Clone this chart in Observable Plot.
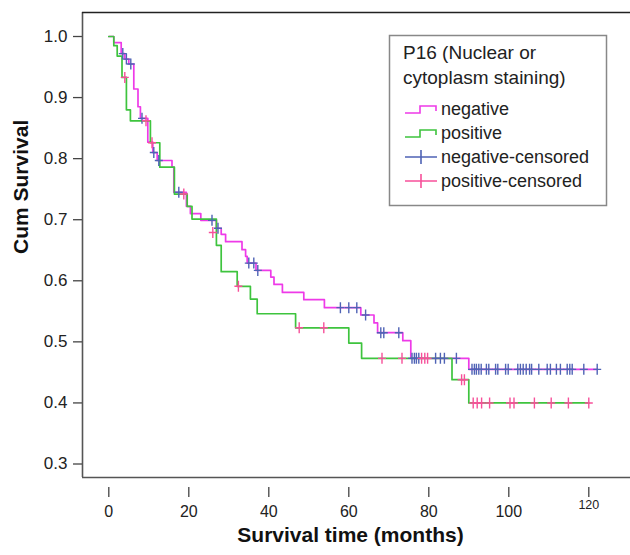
<!DOCTYPE html>
<html><head><meta charset="utf-8">
<script src="https://cdn.jsdelivr.net/npm/d3@7"></script>
<script src="https://cdn.jsdelivr.net/npm/@observablehq/plot@0.6"></script>
<style>body{margin:0;background:#fff;} #chart{width:630px;height:555px;}</style>
</head><body><div id="chart"></div>
<script>
// ---- data ----
const negSteps = [[0,1.0],[1.25,0.99],[3.1,0.972],[4.0,0.963],[5.0,0.955],[6.25,0.914],[7.3,0.885],[7.9,0.866],[9.75,0.827],[11.0,0.81],[12.1,0.797],[15.8,0.786],[16.25,0.745],[19.4,0.722],[20.4,0.71],[23.0,0.699],[26.9,0.686],[28.1,0.676],[29.2,0.664],[33.3,0.651],[34.2,0.64],[34.6,0.629],[36.8,0.617],[40.5,0.606],[41.3,0.594],[43.4,0.581],[48.75,0.569],[53.9,0.556],[63.0,0.544],[66.3,0.531],[67.2,0.515],[73.5,0.502],[75.5,0.473],[90.0,0.455]];
const negEnd = 122.1;
const posSteps = [[0,1.0],[1.25,0.985],[2.1,0.968],[3.3,0.933],[4.4,0.88],[5.4,0.862],[10.4,0.826],[12.75,0.786],[16.4,0.742],[19.6,0.722],[20.8,0.701],[26.9,0.658],[28.1,0.615],[32.1,0.591],[35.4,0.57],[37.1,0.546],[46.7,0.523],[60.0,0.498],[63.2,0.473],[85.8,0.438],[90.0,0.40]];
const posEnd = 120;
const negCensored = [[3.5,0.972],[4.4,0.963],[5.5,0.955],[8.3,0.866],[11.25,0.81],[12.5,0.797],[17.5,0.745],[25.8,0.699],[27.3,0.686],[35.0,0.629],[36.25,0.629],[37.25,0.617],[57.9,0.556],[60.0,0.556],[62.0,0.556],[64.2,0.544],[68.0,0.515],[68.75,0.515],[72.5,0.515],[75.8,0.473],[76.4,0.473],[76.9,0.473],[77.5,0.473],[81.7,0.473],[82.9,0.473],[83.9,0.473],[86.9,0.473],[90.8,0.455],[91.4,0.455],[91.9,0.455],[92.5,0.455],[93.1,0.455],[94.4,0.455],[95.0,0.455],[96.7,0.455],[97.25,0.455],[99.2,0.455],[99.85,0.455],[102.25,0.455],[102.9,0.455],[103.6,0.455],[104.35,0.455],[105.2,0.455],[105.7,0.455],[107.5,0.455],[109.6,0.455],[110.4,0.455],[111.9,0.455],[112.9,0.455],[114.6,0.455],[115.25,0.455],[115.85,0.455],[118.75,0.455],[122.1,0.455]];
const posCensored = [[4.0,0.933],[9.3,0.862],[10.8,0.826],[18.75,0.742],[26.0,0.679],[32.4,0.591],[47.6,0.523],[53.75,0.523],[68.3,0.473],[73.3,0.473],[78.2,0.473],[79.0,0.473],[79.7,0.473],[88.2,0.438],[88.9,0.438],[91.1,0.40],[92.1,0.40],[93.2,0.40],[95.2,0.40],[100.3,0.40],[101.3,0.40],[106.4,0.40],[110.6,0.40],[114.9,0.40],[120.0,0.40]];
const xTicks = [0,20,40,60,80,100,120];
const yTicks = [0.3,0.4,0.5,0.6,0.7,0.8,0.9,1.0];
const legendTitle = ["P16 (Nuclear or","cytoplasm staining)"];
const seriesNames = ["negative","positive","negative-censored","positive-censored"];
const xLabel = "Survival time (months)";
const yLabel = "Cum Survival";

// ---- styling ----
const FONT = "'Liberation Sans', Arial, Helvetica, sans-serif";
const colors = {neg:"#ee3ae8", pos:"#3ec43e", negC:"#4f63b5", posC:"#f7509a"};
const xDomain = [-6.575, 130.425];
const yDomain = [0.2779, 1.0393];

const negLine = negSteps.concat([[negEnd, negSteps[negSteps.length-1][1]]]);
const posLine = posSteps.concat([[posEnd, posSteps[posSteps.length-1][1]]]);
const plusSym = {draw(ctx){ ctx.moveTo(-4,0); ctx.lineTo(4,0); ctx.moveTo(0,-5.5); ctx.lineTo(0,5.5); }};

const plot = Plot.plot({
  width: 630, height: 555,
  marginLeft: 82, marginRight: 0, marginTop: 12, marginBottom: 78,
  style: {fontFamily: FONT, background: "white", color: "#222"},
  x: {domain: xDomain, label: null},
  y: {domain: yDomain, label: null},
  marks: [
    Plot.axisY(yTicks, {anchor: "left", tickSize: 9, tickPadding: 6, tickFormat: d => d.toFixed(1), fontSize: 17, stroke: "#444", strokeWidth: 1.3, label: null}),
    Plot.axisX(xTicks, {anchor: "bottom", tickSize: 10, tickPadding: 8, dy: 10, tickFormat: d => d === 120 ? "" : String(d), fontSize: 16, stroke: "#444", strokeWidth: 1.3, label: null}),
    Plot.text([xTicks[xTicks.length-1]], {x: d => d, text: d => String(d), frameAnchor: "bottom", dy: 31, fontSize: 12.5, fill: "#222"}),
    Plot.ruleX([xDomain[0]], {stroke: "#555", strokeWidth: 1.6}),
    Plot.ruleY([yDomain[0]], {stroke: "#555", strokeWidth: 1.6}),
    Plot.ruleY([yDomain[1]], {stroke: "#222", strokeWidth: 1.6}),
    Plot.line(negLine, {x: d => d[0], y: d => d[1], curve: "step-after", stroke: colors.neg, strokeWidth: 1.7}),
    Plot.line(posLine, {x: d => d[0], y: d => d[1], curve: "step-after", stroke: colors.pos, strokeWidth: 1.7}),
    Plot.dot(negCensored, {x: d => d[0], y: d => d[1], symbol: plusSym, fill: "none", stroke: colors.negC, strokeWidth: 1.4, r: 4}),
    Plot.dot(posCensored, {x: d => d[0], y: d => d[1], symbol: plusSym, fill: "none", stroke: colors.posC, strokeWidth: 1.4, r: 4}),
    Plot.text([yLabel], {text: d => d, frameAnchor: "left", rotate: -90, dx: -61, dy: 9, fontSize: 21, fontWeight: "bold", fill: "#111"}),
    Plot.text([xLabel], {text: d => d, frameAnchor: "bottom", dx: -6, dy: 64, fontSize: 21, fontWeight: "bold", fill: "#111"})
  ]
});
document.getElementById("chart").appendChild(plot);

// ---- legend ----
const svg = d3.select(plot);
const lg = svg.append("g").attr("font-family", FONT).attr("fill", "#222").attr("text-anchor", "start");
lg.append("rect").attr("x", 389.5).attr("y", 35.5).attr("width", 217).attr("height", 170)
  .attr("fill", "white").attr("stroke", "#888").attr("stroke-width", 1.5);
legendTitle.forEach((s, i) => lg.append("text").attr("x", 403).attr("y", 59 + i * 24.5).attr("font-size", 19).attr("text-anchor", "start").text(s));
const legendColors = [colors.neg, colors.pos, colors.negC, colors.posC];
seriesNames.forEach((name, i) => {
  const by = 115 + i * 24;
  const path = i < 2
    ? `M405,${by-2}H420V${by-9}H436V${by-4}`
    : `M405,${by-6}H437M421,${by-13}V${by+1}`;
  lg.append("path").attr("d", path).attr("fill", "none").attr("stroke", legendColors[i]).attr("stroke-width", 1.6);
  lg.append("text").attr("x", 441).attr("y", by).attr("font-size", 18).attr("text-anchor", "start").text(name);
});
</script>
</body></html>
